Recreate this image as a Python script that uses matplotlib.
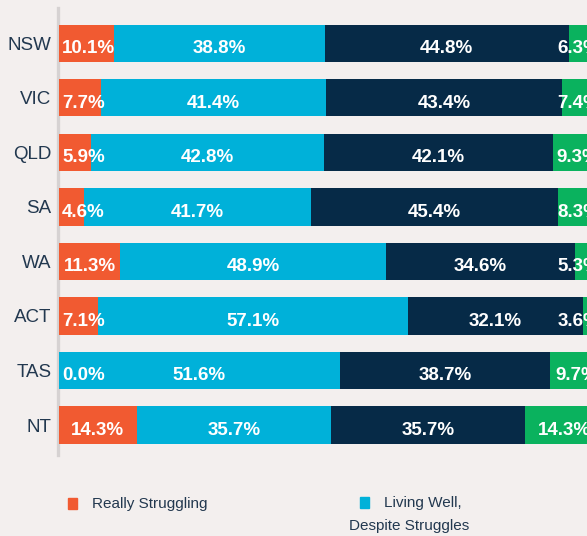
import matplotlib
matplotlib.use("Agg")
import matplotlib.pyplot as plt
from matplotlib.patches import Rectangle
from matplotlib.transforms import ScaledTranslation

states = ["NSW", "VIC", "QLD", "SA", "WA", "ACT", "TAS", "NT"]
really_struggling = [10.1, 7.7, 5.9, 4.6, 11.3, 7.1, 0.0, 14.3]
living_well_despite = [38.8, 41.4, 42.8, 41.7, 48.9, 57.1, 51.6, 35.7]
living_well = [44.8, 43.4, 42.1, 45.4, 34.6, 32.1, 38.7, 35.7]
thriving = [6.3, 7.4, 9.3, 8.3, 5.3, 3.6, 9.7, 14.3]
series = [really_struggling, living_well_despite, living_well, thriving]
colors = ["#F15A31", "#00B1D9", "#062A47", "#0AB25E"]
legend_labels = ["Really Struggling", "Living Well,\nDespite Struggles"]

plt.rcParams["font.family"] = ["Liberation Sans", "DejaVu Sans"]

BG = "#F3EFEE"
TXT = "#22384F"
W, H = 587, 536

fig = plt.figure(figsize=(W / 100, H / 100), dpi=100, facecolor=BG)
ax = fig.add_axes([59 / W, 1 - 455 / H, 544 / W, (455 - 8) / H])
ax.set_facecolor(BG)

label_tr = ax.transData + ScaledTranslation(0, -9.8 / 100, fig.dpi_scale_trans)

ypos = list(range(len(states)))
left = [0.0] * len(states)
texts = []
for vals, col in zip(series, colors):
    ax.barh(ypos, vals, left=left, height=0.68, color=col, zorder=3)
    for i, v in enumerate(vals):
        mid = left[i] + v / 2
        t = ax.text(mid, i, f"{v:.1f}%", ha="center", va="baseline", color="white",
                    fontsize=13.5, fontweight="bold", zorder=4, transform=label_tr)
        texts.append(t)
    left = [l + v for l, v in zip(left, vals)]

ax.set_xlim(0, 100)
ax.set_ylim(7.55, -0.65)
ax.set_yticks(ypos)
ax.set_yticklabels(states)
ax.tick_params(axis="y", length=0, pad=4.5, labelsize=13.5, labelcolor=TXT)
ax.set_xticks([])
for s in ["top", "right", "bottom"]:
    ax.spines[s].set_visible(False)
ax.spines["left"].set_color("#D6D2D2")
ax.spines["left"].set_linewidth(2.4)
ax.spines["left"].set_position(("outward", 1))

# keep labels within the bar extent (3px padding)
fig.canvas.draw()
r = fig.canvas.get_renderer()
px_per_unit = 544 / 100
pad = 3 / px_per_unit
for t in texts:
    bb = t.get_window_extent(r)
    half = bb.width / 2 / px_per_unit
    x, y = t.get_position()
    if x - half < pad:
        x = pad + half
    if x + half > 100 - pad:
        x = 100 - pad - half
    t.set_position((x, y))

def fx(px):
    return px / W

def fy(py):
    return 1 - py / H

# legend (visible part)
fig.add_artist(Rectangle((fx(68), fy(509)), 9 / W, 11 / H, transform=fig.transFigure,
                         color=colors[0]))
fig.text(fx(92), fy(504), legend_labels[0], fontsize=11, color=TXT,
         va="center", ha="left")
fig.add_artist(Rectangle((fx(360), fy(508)), 9 / W, 11 / H, transform=fig.transFigure,
                         color=colors[1]))
l1, l2 = legend_labels[1].split("\n")
fig.text(fx(384), fy(503), l1, fontsize=11, color=TXT, va="center", ha="left")
fig.text(fx(349), fy(526), l2, fontsize=11, color=TXT, va="center", ha="left")

fig.savefig("out.png", dpi=100, facecolor=BG)
